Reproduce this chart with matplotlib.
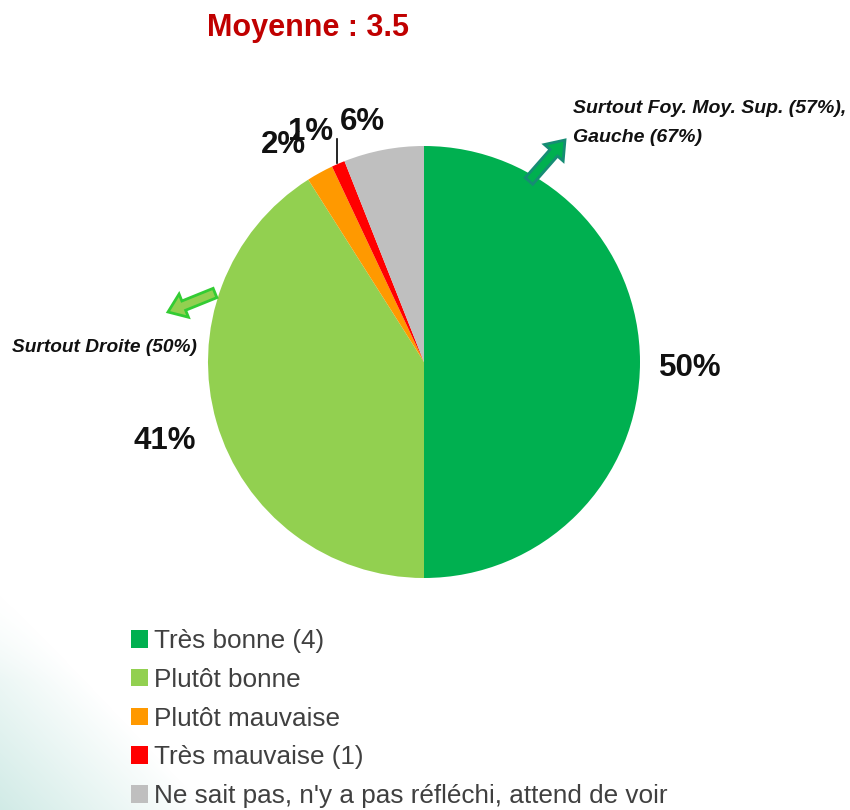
import numpy as np
import matplotlib
matplotlib.use("Agg")
import matplotlib.pyplot as plt
from matplotlib.patches import FancyArrow

plt.rcParams["font.family"] = ["Liberation Sans", "DejaVu Sans"]

# ---- data ----
categories = ["Très bonne (4)", "Plutôt bonne", "Plutôt mauvaise",
              "Très mauvaise (1)", "Ne sait pas, n'y a pas réfléchi, attend de voir"]
values = [50, 41, 2, 1, 6]
colors = ["#00B050", "#92D050", "#FF9900", "#FF0000", "#BFBFBF"]
value_labels = ["50%", "41%", "2%", "1%", "6%"]
title_text = "Moyenne : 3.5"
note_right = ["Surtout Foy. Moy. Sup. (57%),", "Gauche (67%)"]
note_left = "Surtout Droite (50%)"

W, H = 850, 810
fig = plt.figure(figsize=(W / 100, H / 100), dpi=100)
ax = fig.add_axes([0, 0, 1, 1])

# soft background gradient bottom-left
yy, xx = np.mgrid[0:H, 0:W]
ypix = H - yy
d = xx - (ypix - 590) * 0.95
a = np.clip(-d / 260.0, 0, 1) * np.clip((ypix - 560) / 120.0, 0, 1)
img = np.zeros((H, W, 4))
img[..., 0] = 0.55
img[..., 1] = 0.80
img[..., 2] = 0.76
img[..., 3] = a * 0.5
ax.imshow(img, extent=(0, W, 0, H), origin="lower", zorder=0, interpolation="bilinear")

cx, cy, R = 424, H - 362, 216
wedges, _ = ax.pie(values, colors=colors, startangle=90, counterclock=False,
                   center=(cx, cy), radius=R,
                   wedgeprops=dict(linewidth=0))
for w in wedges:
    w.set_zorder(2)

ax.set_xlim(0, W)
ax.set_ylim(0, H)
ax.set_aspect("equal")
ax.axis("off")

# value labels (baseline positions)
label_pos = [(690, H - 376), (165, H - 449), (283, H - 153), (311, H - 140), (362, H - 130)]
for (x, y), t in zip(label_pos, value_labels):
    ax.text(x, y, t, ha="center", va="baseline", fontsize=22.5, fontweight="bold",
            color="#111111", zorder=5)
# leader line for 1%
ax.plot([337, 337], [H - 139, H - 163], color="black", lw=1.2, zorder=4)

# title
fig.text(308 / W, 1 - 36 / H, title_text, ha="center", va="baseline",
         fontsize=22, fontweight="bold", color="#C00000")

# notes
ax.text(573, H - 113, note_right[0], ha="left", va="baseline", fontsize=14,
        fontweight="bold", style="italic", color="#111111", zorder=5)
ax.text(573, H - 142, note_right[1], ha="left", va="baseline", fontsize=14,
        fontweight="bold", style="italic", color="#111111", zorder=5)
ax.text(12, H - 352, note_left, ha="left", va="baseline", fontsize=13.8,
        fontweight="bold", style="italic", color="#111111", zorder=5)

# arrows
ax.add_patch(FancyArrow(529, H - 181, 36, 41, width=10, head_width=25, head_length=17,
                        length_includes_head=True, facecolor="#00B050",
                        edgecolor="#168C74", linewidth=2, zorder=3))
ax.add_patch(FancyArrow(215, H - 293, -47, -19, width=10, head_width=25, head_length=17,
                        length_includes_head=True, facecolor="#92D050",
                        edgecolor="#33CC33", linewidth=2, zorder=3))

# legend
leg = ax.legend(wedges, categories, loc="upper left",
                bbox_to_anchor=(131 / W, 1 - 629 / H), bbox_transform=fig.transFigure,
                frameon=False, fontsize=18.8, handlelength=0.65, handleheight=0.65,
                handletextpad=0.25, labelspacing=0.565, borderpad=0, borderaxespad=0)
for t in leg.get_texts():
    t.set_color("#404040")

fig.savefig("out.png", dpi=100)
